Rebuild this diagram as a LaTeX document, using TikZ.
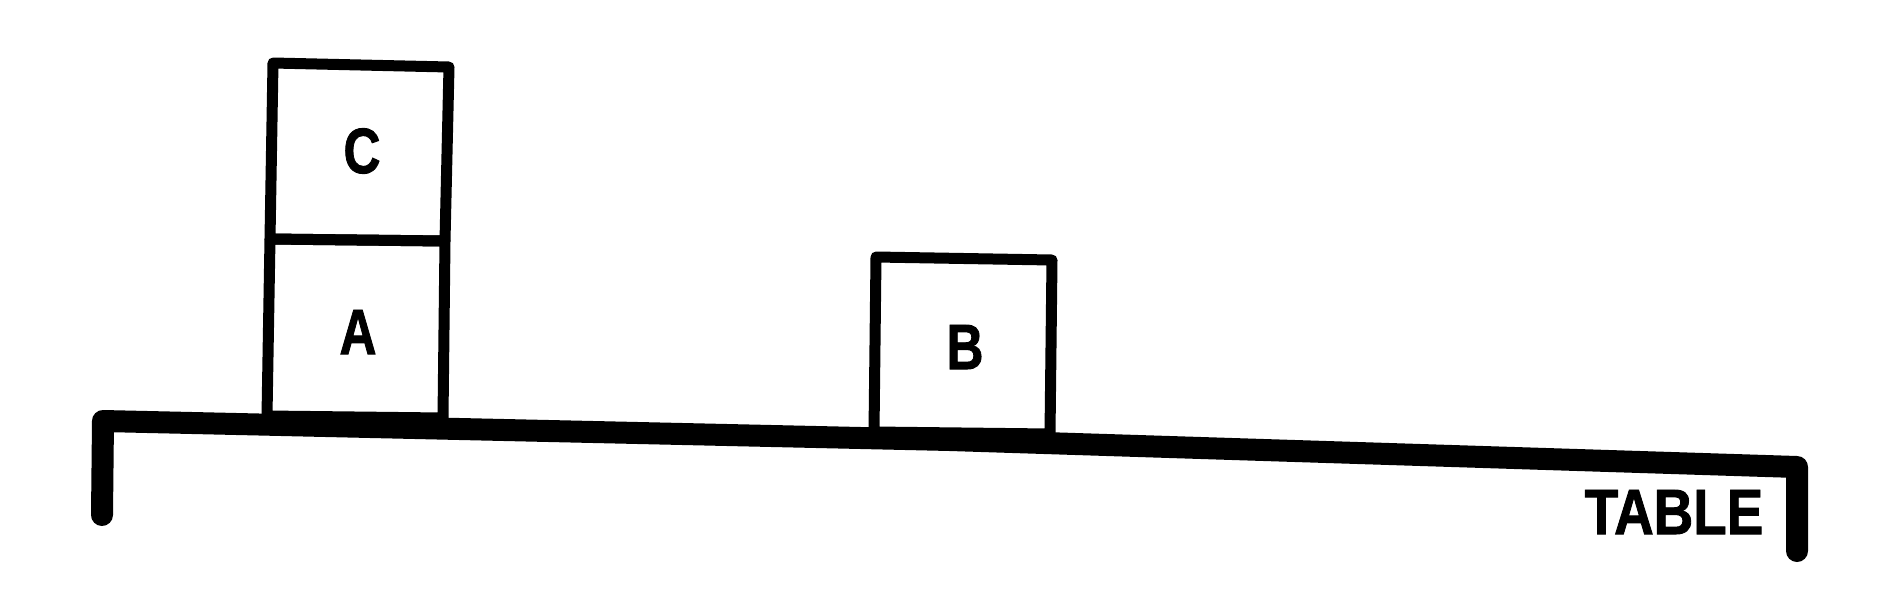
\documentclass[tikz,border=0pt]{standalone}
\usepackage{fontspec}
\setmainfont{Liberation Sans}
\newfontfamily\lblfont[FakeBold=1.5]{Liberation Sans Bold}
\begin{document}
\begin{tikzpicture}[x=1pt,y=-1pt,
  blockline/.style={line width=11pt, line join=round},
  tableline/.style={line width=22pt, line join=round, line cap=round},
  lbl/.style={inner sep=0pt, font=\fontsize{64}{64}\lblfont, xscale=0.8}]
\useasboundingbox (0,0) rectangle (1880,614);
% blocks
\draw[blockline] (273,63) -- (449,67) -- (445,241) -- (270,239) -- cycle;
\draw[blockline] (270,239) -- (445,241) -- (443,418) -- (267,416) -- cycle;
\draw[blockline] (876,257) -- (1052,260) -- (1050,434) -- (874,432) -- cycle;
% table
\draw[tableline] (102,515) -- (103,421) -- (950,440) -- (1797,467) -- (1797,551);
% labels
\node[lbl] (c) at (362,151) {C};
\node[lbl] (a) at (358,332) {A};
\node[lbl] (b) at (965,347) {B};
\node[lbl, xscale=1.07] (t) at (1674,512) {TABLE};
\end{tikzpicture}
\end{document}
